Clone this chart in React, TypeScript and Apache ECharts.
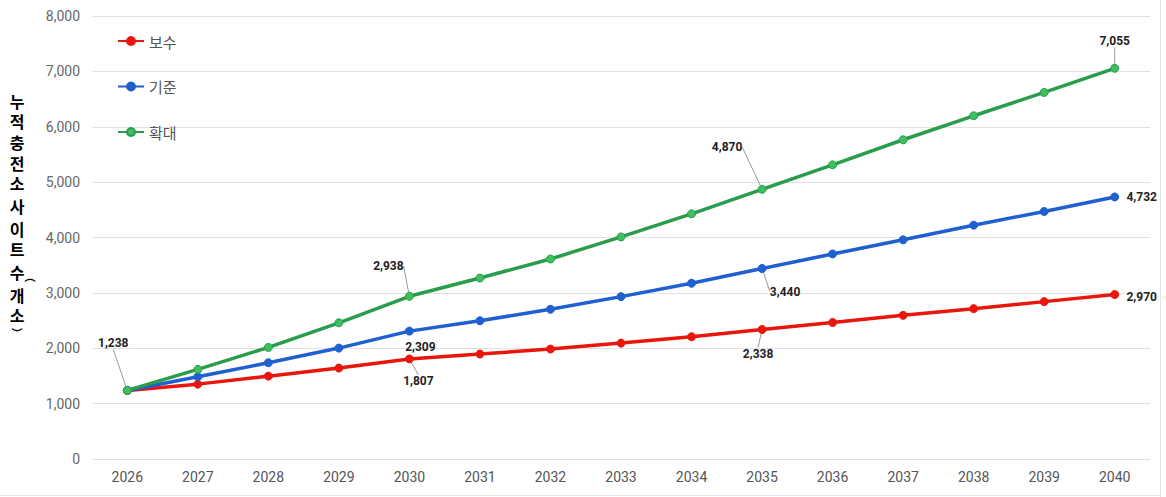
import React, { useEffect, useRef } from "react";
import * as echarts from "echarts";

const years = ["2026","2027","2028","2029","2030","2031","2032","2033","2034","2035","2036","2037","2038","2039","2040"];
const seriesNames = ["보수", "기준", "확대"];
const conservative = [1238, 1352, 1496, 1642, 1807, 1895, 1985, 2093, 2208, 2338, 2465, 2595, 2715, 2842, 2970];
const baseline = [1238, 1485, 1738, 2003, 2309, 2497, 2703, 2932, 3175, 3440, 3703, 3958, 4222, 4470, 4732];
const expansion = [1238, 1618, 2015, 2460, 2938, 3268, 3612, 4010, 4428, 4870, 5312, 5765, 6198, 6620, 7055];
const yTicks = { min: 0, max: 8000, interval: 1000 };

// which points carry a value label, per series: [dataIndex, dx, dy, showLine]
const labelSpecs: Array<Array<[number, number, number, boolean]>> = [
  [[4, 9, 22, true], [9, -4, 24, true], [14, 27, 2, false]],
  [[4, 11, 16, false], [9, 23, 23, true], [14, 27, 0, false]],
  [[0, -14, -47, true], [4, -21, -30, true], [9, -35, -42, true], [14, 0, -27, true]],
];

// y-axis title "누적 충전소 사이트 수(개소)", written top-to-bottom
const titleRows: string[] = [
  "{c|누}", "{c|적}", "{c22|충}", "{c|전}", "{c|소}", "{c26|사}", "{c|이}", "{c|트}",
  "{s|수}{p|︵}", "{c|개}", "{c|소}", "{q|︶}",
];

const FONT = "Roboto, 'Noto Sans CJK KR', sans-serif";
const KFONT = "'Noto Sans CJK KR', sans-serif";

export default function App() {
  const ref = useRef<HTMLDivElement>(null);
  useEffect(() => {
    if (!ref.current) return;
    const chart = echarts.init(ref.current, undefined, { renderer: "svg" });
    const colors = ["#e8160c", "#1f5fcf", "#2a9d4b"];
    const fills = ["#e8160c", "#1f5fcf", "#3fbf60"];
    const datasets = [conservative, baseline, expansion];

    const series = datasets.map((arr, si) => {
      const specMap = new Map<number, [number, number, number, boolean]>();
      labelSpecs[si].forEach((s) => specMap.set(s[0], s));
      return {
        name: seriesNames[si],
        type: "line",
        z: si === 2 ? 3 : si === 1 ? 2 : 1,
        symbol: "circle",
        symbolSize: 8,
        showSymbol: true,
        lineStyle: { color: colors[si], width: 3.5 },
        itemStyle: { color: fills[si], borderColor: colors[si], borderWidth: 1 },
        data: arr.map((v, i) => {
          const sp = specMap.get(i);
          if (!sp) return { value: v, label: { show: false } };
          return {
            value: v,
            label: {
              show: true,
              position: "inside",
              formatter: (p: any) => Number(p.value).toLocaleString("en-US"),
              color: "#222",
              fontSize: 12,
              fontWeight: "bold",
              fontFamily: FONT,
            },
            labelLine: { show: sp[3], lineStyle: { color: "#9a9a9a", width: 1 } },
          };
        }),
        labelLayout: (params: any) => {
          const sp = specMap.get(params.dataIndex);
          if (!sp) return {};
          return { dx: sp[1], dy: sp[2] };
        },
      };
    });

    const charStyle = (lh: number) => ({
      fontSize: 16,
      fontWeight: "bold",
      fontFamily: FONT,
      color: "#111",
      lineHeight: lh,
      height: lh,
      width: 18,
      align: "center",
    });
    const rich: any = {
      c: charStyle(20),
      c22: charStyle(22),
      c26: charStyle(26),
      s: { ...charStyle(26), padding: [0, 0, 0, 8] },
      p: { fontSize: 11, fontWeight: "bold", fontFamily: FONT, color: "#111", width: 8, align: "left", lineHeight: 26, padding: [8, 0, 0, 0] },
      q: { ...charStyle(16), fontSize: 11 },
    };
    const titleText = titleRows.join("\n");

    const graphic: any[] = [
      {
        type: "text",
        left: 0,
        top: 92,
        style: { text: titleText, rich, align: "center" },
      },
      {
        type: "line",
        shape: { x1: 1160.5, y1: 0, x2: 1160.5, y2: 497 },
        style: { stroke: "#e4e4e4", lineWidth: 1 },
      },
      {
        type: "line",
        shape: { x1: 0, y1: 495.5, x2: 1161, y2: 495.5 },
        style: { stroke: "#e4e4e4", lineWidth: 1 },
      },
    ];

    chart.setOption({
      animation: false,
      backgroundColor: "#ffffff",
      textStyle: { fontFamily: FONT },
      grid: { left: 92, right: 16, top: 16, bottom: 38, containLabel: false },
      legend: {
        orient: "vertical",
        left: 112,
        top: 28,
        itemWidth: 26,
        itemHeight: 10,
        itemGap: 29.5,
        data: seriesNames,
        textStyle: { fontSize: 15, color: "#555", fontFamily: KFONT, lineHeight: 16 },
      },
      xAxis: {
        type: "category",
        data: years,
        boundaryGap: true,
        axisLine: { show: false },
        axisTick: { show: false },
        axisLabel: { color: "#555", fontSize: 14, margin: 11 },
      },
      yAxis: {
        type: "value",
        min: yTicks.min,
        max: yTicks.max,
        interval: yTicks.interval,
        axisLine: { show: false },
        axisTick: { show: false },
        axisLabel: {
          color: "#666",
          fontSize: 14,
          margin: 12,
          formatter: (v: number) => v.toLocaleString("en-US"),
        },
        splitLine: { lineStyle: { color: "#e1e1e6", width: 1.2 } },
      },
      graphic,
      series,
    } as any);
    return () => chart.dispose();
  }, []);
  return (
    <div
      ref={ref}
      style={{ position: "absolute", left: 0, top: 0, width: 1166, height: 497 }}
    />
  );
}
